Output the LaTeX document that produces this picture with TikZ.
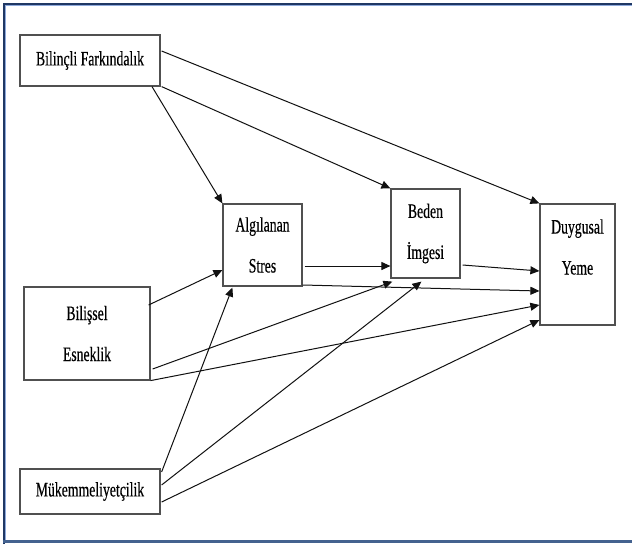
\documentclass[tikz,border=0pt]{standalone}
\usepackage{fontspec}
\setmainfont{Liberation Serif}[FakeStretch=0.67,FakeBold=0.3]
\usetikzlibrary{arrows.meta,calc}
\definecolor{framenavy}{HTML}{1F3864}
\definecolor{framelight}{HTML}{8EA9DB}
\definecolor{framebot}{HTML}{44628F}
\definecolor{boxgray}{HTML}{505050}
\definecolor{linecol}{HTML}{111111}
\tikzset{
  box/.style={draw=boxgray, line width=1.2pt, inner sep=0pt, align=center,
    font=\fontsize{20.5}{41}\selectfont},
  txt/.style={inner sep=0pt, align=center, font=\fontsize{20.5}{41}\selectfont},
  arr/.style={draw=linecol, line width=1pt, -{Triangle[length=9pt,width=8pt]}},
}
\begin{document}
\begin{tikzpicture}[x=1pt,y=-1pt]
\fill[white] (0,0) rectangle (632,544);
\useasboundingbox (0,0) rectangle (632,544);
% frame
\draw[framelight, line width=1.2pt] (5.6,540) -- (5.6,5.6) -- (632,5.6);
\draw[framenavy, line width=2pt] (3.5,544) -- (3.5,3.5) -- (632,3.5);
\draw[framebot, line width=2.4pt] (2.5,541.6) -- (632,541.6);
% boxes
\node[box, minimum width=140pt, minimum height=51pt] (bf) at (90,60.5) {Bilinçli Farkındalık};
\node[box, minimum width=79pt, minimum height=82pt] (st) at (262.5,245) {Algılanan\\Stres};
\node[box, minimum width=69pt, minimum height=89pt] (bi) at (425.5,233.5) {Beden\\İmgesi};
\node[box, minimum width=75pt, minimum height=121pt] (dy) at (577.5,264.5) {};
\node[txt] (dyt) at (577.5,247) {Duygusal\\Yeme};
\node[box, minimum width=126pt, minimum height=93pt] (be) at (87,333.5) {Bilişsel\\Esneklik};
\node[box, minimum width=140pt, minimum height=45pt] (mk) at (90,491.5) {Mükemmeliyetçilik};
% connectors
\draw[arr] ($(bf.east |- 0,51)+(1,0)$) -- (dy.north west);
\draw[arr] ($(bf.south east)+(1,0)$) -- (bi.north west);
\draw[arr] (152,0 |- bf.south) -- (st.north west);
\draw[arr] ($(st.east |- 0,266)+(2,0)$) -- (bi.west |- 0,266);
\draw[arr] ($(bi.east |- 0,265)+(2,0)$) -- (dy.west |- 0,271);
\draw[arr] (st.east |- 0,285) -- (dy.west |- 0,291);
\draw[arr] ($(be.east |- 0,305)+(-2,0)$) -- (st.west |- 0,270);
\draw[arr] ($(be.east |- 0,369)+(2,0)$) -- ($(bi.south west)+(2,3)$);
\draw[arr] (be.south east) -- (dy.west |- 0,305);
\draw[arr] ($(mk.east |- 0,472)+(1,0)$) -- ($(st.south west)+(10,1)$);
\draw[arr] ($(mk.east |- 0,485)+(1,0)$) -- ($(bi.south west)+(31,3)$);
\draw[arr] ($(mk.east |- 0,502)+(1,0)$) -- (dy.west |- 0,320);
\end{tikzpicture}
\end{document}
